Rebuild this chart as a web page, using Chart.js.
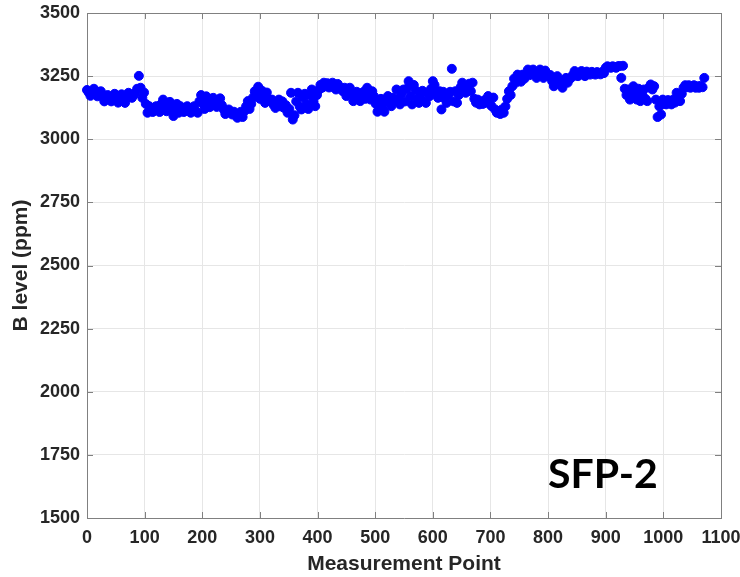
<!DOCTYPE html>
<html>
<head>
<meta charset="utf-8">
<script src="https://cdn.jsdelivr.net/npm/chart.js@4/dist/chart.umd.min.js"></script>
<style>
  html, body { margin: 0; padding: 0; background: #ffffff; }
  #wrap { width: 740px; height: 577px; }
</style>
</head>
<body>
<div id="wrap"><canvas id="chart" width="740" height="577"></canvas></div>
<script>
// Axis ticks
const xTickValues = [0, 100, 200, 300, 400, 500, 600, 700, 800, 900, 1000, 1100];
const yTickValues = [1500, 1750, 2000, 2250, 2500, 2750, 3000, 3250, 3500];

// Boron readings (ppm), one every `pointSpacing` measurement points starting at 0
const pointSpacing = 3;
const boronPpm = [
  3195, 3185, 3172, 3184, 3200, 3180, 3170, 3182, 3190, 3168,
  3150, 3172, 3175, 3160, 3150, 3165, 3180, 3162, 3145, 3160,
  3178, 3160, 3144, 3170, 3184, 3172, 3164, 3175, 3184, 3200,
  3251, 3204, 3164, 3185, 3140, 3105, 3131, 3118, 3108, 3125,
  3131, 3115, 3108, 3140, 3157, 3130, 3111, 3145, 3148, 3120,
  3092, 3115, 3140, 3105, 3131, 3118, 3108, 3125, 3131, 3112,
  3105, 3120, 3131, 3110, 3105, 3150, 3175, 3140, 3120, 3170,
  3145, 3127, 3150, 3164, 3140, 3128, 3155, 3162, 3135, 3118,
  3100, 3110, 3118, 3105, 3098, 3109, 3095, 3085, 3100, 3109,
  3088, 3111, 3130, 3151, 3120, 3140, 3165, 3190, 3175, 3208,
  3160, 3193, 3170, 3144, 3185, 3160, 3150, 3157, 3135, 3124,
  3145, 3157, 3130, 3150, 3124, 3135, 3105, 3120, 3184, 3078,
  3095, 3150, 3184, 3130, 3118, 3165, 3180, 3140, 3120, 3175,
  3197, 3150, 3131, 3175, 3195, 3215, 3204, 3224, 3210, 3222,
  3205, 3218, 3224, 3205, 3197, 3219, 3208, 3200, 3190, 3204,
  3171, 3195, 3204, 3180, 3151, 3170, 3188, 3160, 3151, 3182,
  3188, 3160, 3204, 3180, 3157, 3190, 3170, 3140, 3109, 3135,
  3160, 3125, 3109, 3150, 3171, 3145, 3131, 3165, 3150, 3197,
  3160, 3138, 3180, 3197, 3150, 3200, 3230, 3170, 3138, 3215,
  3194, 3160, 3144, 3175, 3192, 3150, 3144, 3185, 3170, 3200,
  3230, 3215, 3180, 3164, 3190, 3118, 3188, 3160, 3144, 3175,
  3188, 3279, 3150, 3190, 3144, 3175, 3205, 3224, 3195, 3184,
  3210, 3220, 3190, 3224, 3160, 3145, 3157, 3138, 3150, 3140,
  3155, 3145, 3171, 3140, 3131, 3165, 3118, 3105, 3112, 3100,
  3118, 3105, 3130, 3160, 3190, 3175, 3210, 3240, 3224, 3256,
  3235, 3228, 3256, 3240, 3260, 3276, 3254, 3268, 3276, 3258,
  3243, 3265, 3276, 3255, 3243, 3272, 3260, 3250, 3254, 3230,
  3210, 3240, 3250, 3222, 3215, 3204, 3235, 3243, 3224, 3238,
  3243, 3255, 3270, 3252, 3250, 3265, 3270, 3256, 3250, 3268,
  3262, 3256, 3267, 3260, 3256, 3266, 3262, 3257, 3267, 3262,
  3283, 3289, 3285, 3283, 3289, 3286, 3283, 3289, 3290, 3243,
  3291, 3200, 3175, 3197, 3157, 3185, 3210, 3170, 3157, 3200,
  3151, 3180, 3197, 3160, 3151, 3205, 3217, 3197, 3210, 3157,
  3088, 3130, 3098, 3157, 3140, 3138, 3155, 3145, 3138, 3157,
  3145, 3184, 3165, 3151, 3180, 3204, 3214, 3206, 3214, 3204,
  3210, 3214, 3204, 3210, 3204, 3212, 3206, 3243
];

const panelLabel = 'SFP-2';
const panelLabelAt = { x: 800, y: 1620 };
const xTitle = 'Measurement Point';
const yTitle = 'B level (ppm)';

const axisColor = '#808080';
const textColor = '#262626';
const gridColor = '#e6e6e6';
const markerColor = '#0000ff';
const uiFont = '"Liberation Sans", Arial, Helvetica, sans-serif';

const points = boronPpm.map((v, i) => ({ x: i * pointSpacing, y: v }));

// Box outline, inward tick marks and the panel label
const framePlugin = {
  id: 'frame',
  afterDraw(chart) {
    const { ctx, chartArea: a, scales: { x, y } } = chart;
    const snap = v => Math.round(v) + 0.5;
    const tick = 6;
    ctx.save();
    ctx.strokeStyle = axisColor;
    ctx.lineWidth = 1;
    ctx.beginPath();
    ctx.moveTo(a.left, snap(a.top));
    ctx.lineTo(a.right, snap(a.top));
    ctx.moveTo(snap(a.right), a.top);
    ctx.lineTo(snap(a.right), a.bottom);
    xTickValues.forEach(v => {
      const px = snap(x.getPixelForValue(v));
      ctx.moveTo(px, a.bottom);
      ctx.lineTo(px, a.bottom - tick);
      ctx.moveTo(px, a.top);
      ctx.lineTo(px, a.top + tick);
    });
    yTickValues.forEach(v => {
      const py = snap(y.getPixelForValue(v));
      ctx.moveTo(a.left, py);
      ctx.lineTo(a.left + tick, py);
      ctx.moveTo(a.right, py);
      ctx.lineTo(a.right - tick, py);
    });
    ctx.stroke();

    ctx.fillStyle = '#000000';
    ctx.font = 'bold 41px Lato, "Open Sans", sans-serif';
    ctx.textAlign = 'left';
    ctx.textBaseline = 'alphabetic';
    ctx.fillText(panelLabel, x.getPixelForValue(panelLabelAt.x), y.getPixelForValue(panelLabelAt.y));
    ctx.restore();
  }
};

const plainNumber = v => String(v);

new Chart(document.getElementById('chart'), {
  type: 'scatter',
  data: {
    datasets: [{
      data: points,
      backgroundColor: markerColor,
      borderColor: markerColor,
      borderWidth: 1,
      pointRadius: 4.5,
      pointHoverRadius: 4.5,
      showLine: false,
      clip: false
    }]
  },
  options: {
    responsive: false,
    animation: false,
    events: [],
    layout: { padding: { top: 13, right: 19, left: 0, bottom: 0 } },
    plugins: {
      legend: { display: false },
      tooltip: { enabled: false }
    },
    scales: {
      x: {
        type: 'linear',
        min: xTickValues[0],
        max: xTickValues[xTickValues.length - 1],
        afterBuildTicks: s => { s.ticks = xTickValues.map(v => ({ value: v })); },
        afterFit: s => { s.height = 59; s.paddingLeft = 0; s.paddingRight = 0; },
        ticks: {
          callback: plainNumber,
          font: { family: uiFont, size: 18, weight: 'bold' },
          color: textColor,
          padding: 9,
          maxRotation: 0,
          autoSkip: false
        },
        grid: { color: gridColor, lineWidth: 1, drawTicks: false },
        border: { color: axisColor, width: 1 },
        title: {
          display: true,
          text: xTitle,
          font: { family: uiFont, size: 21, weight: 'bold' },
          color: textColor,
          padding: { top: 0, bottom: 0 }
        }
      },
      y: {
        type: 'linear',
        min: yTickValues[0],
        max: yTickValues[yTickValues.length - 1],
        afterBuildTicks: s => { s.ticks = yTickValues.map(v => ({ value: v })); },
        afterFit: s => { s.width = 87; s.paddingTop = 0; s.paddingBottom = 0; },
        ticks: {
          callback: plainNumber,
          font: { family: uiFont, size: 18, weight: 'bold' },
          color: textColor,
          padding: 7,
          autoSkip: false
        },
        grid: { color: gridColor, lineWidth: 1, drawTicks: false },
        border: { color: axisColor, width: 1 },
        title: {
          display: true,
          text: yTitle,
          font: { family: uiFont, size: 21, weight: 'bold' },
          color: textColor,
          padding: { top: 9, bottom: 0 }
        }
      }
    }
  },
  plugins: [framePlugin]
});
</script>
</body>
</html>
